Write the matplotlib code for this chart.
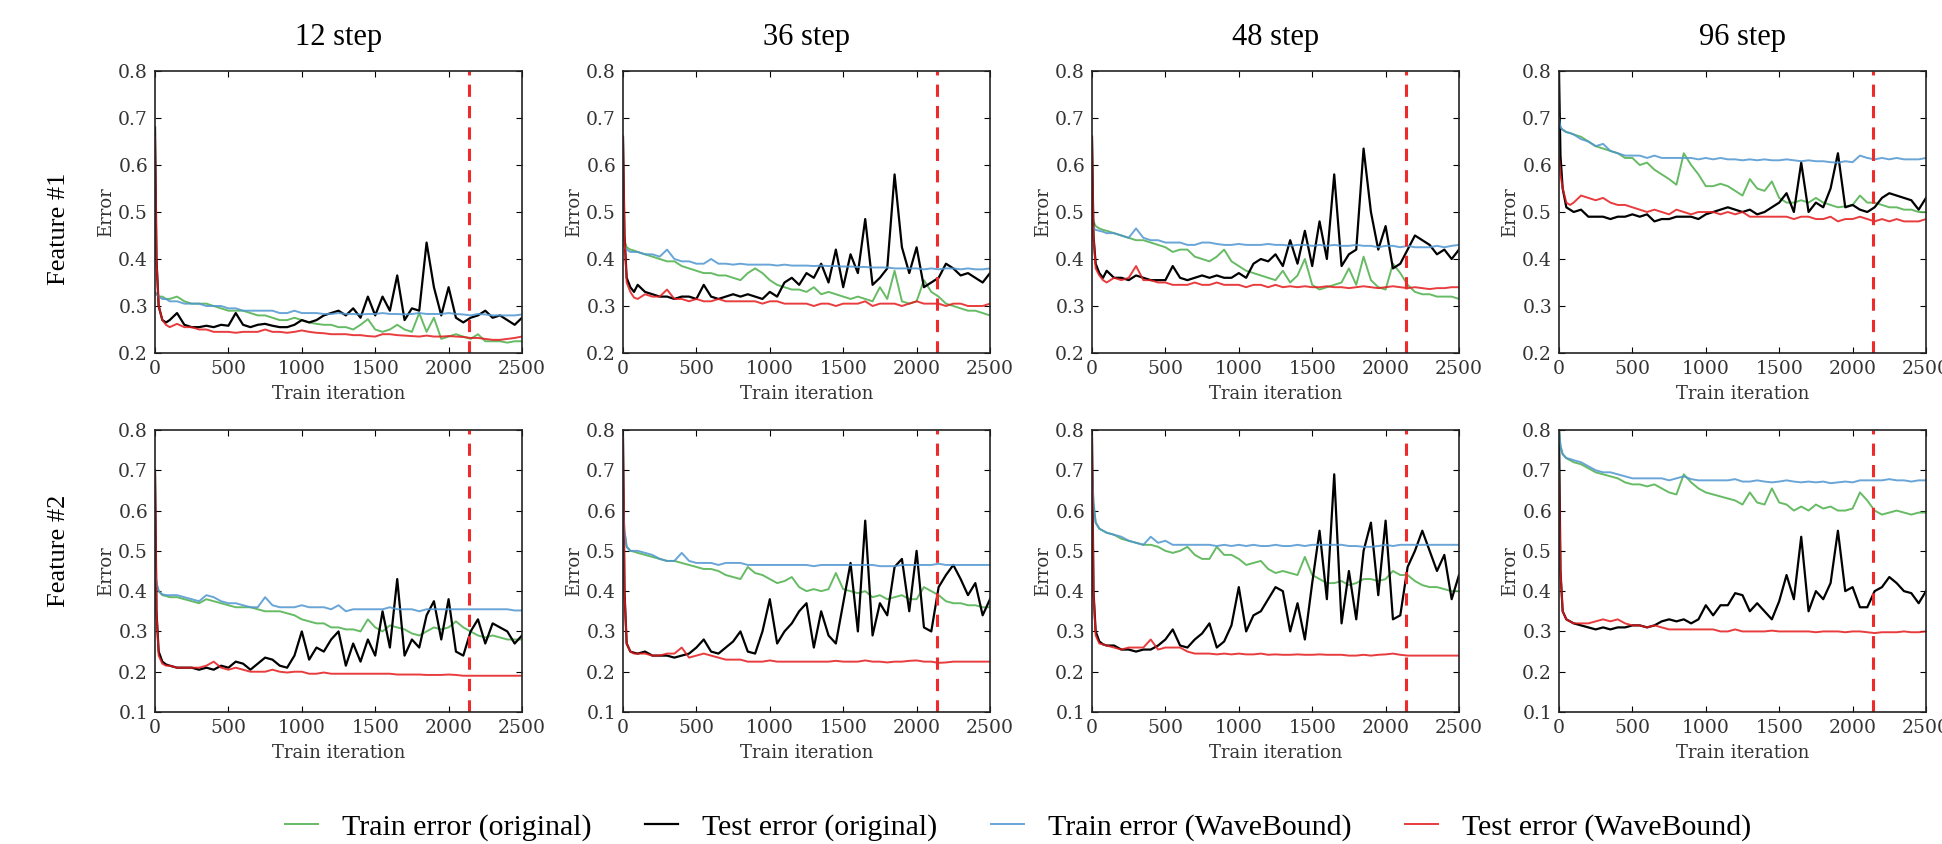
import matplotlib
matplotlib.use("Agg")
import matplotlib.pyplot as plt

# training iterations at which the errors are read (dense at the start)
iters = [0, 10, 25, 50, 75] + list(range(100, 2550, 50))

steps = ["12 step", "36 step", "48 step", "96 step"]
features = ["Feature #1", "Feature #2"]
series_names = ["Train error (original)", "Test error (original)",
                "Train error (WaveBound)", "Test error (WaveBound)"]
early_stop = 2140

# ---------------- Feature #1 ----------------
f1_12_train_orig = [0.33, 0.325, 0.32, 0.32, 0.315,
    0.315, 0.32, 0.31, 0.305, 0.305, 0.305, 0.30, 0.295, 0.29, 0.29,
    0.29, 0.285, 0.28, 0.28, 0.275, 0.27, 0.27, 0.275, 0.27, 0.265,
    0.262, 0.26, 0.26, 0.255, 0.255, 0.25, 0.26, 0.272, 0.25, 0.245,
    0.25, 0.26, 0.25, 0.245, 0.285, 0.245, 0.275, 0.23, 0.235, 0.24,
    0.235, 0.23, 0.24, 0.225, 0.225, 0.225, 0.222, 0.225, 0.225]
f1_12_test_orig = [0.68, 0.4, 0.3, 0.27, 0.265,
    0.27, 0.285, 0.26, 0.255, 0.255, 0.258, 0.255, 0.26, 0.258, 0.285,
    0.26, 0.255, 0.26, 0.262, 0.258, 0.255, 0.255, 0.26, 0.27, 0.265,
    0.27, 0.28, 0.285, 0.29, 0.28, 0.295, 0.275, 0.32, 0.28, 0.32,
    0.29, 0.365, 0.27, 0.295, 0.29, 0.435, 0.34, 0.28, 0.34, 0.275,
    0.265, 0.275, 0.28, 0.29, 0.275, 0.28, 0.27, 0.26, 0.275]
f1_12_train_wb = [0.33, 0.325, 0.32, 0.315, 0.315,
    0.31, 0.31, 0.305, 0.305, 0.305, 0.30, 0.30, 0.30, 0.295, 0.295,
    0.29, 0.29, 0.29, 0.29, 0.29, 0.285, 0.285, 0.29, 0.285, 0.285,
    0.285, 0.283, 0.283, 0.285, 0.283, 0.283, 0.282, 0.283, 0.283, 0.285,
    0.283, 0.283, 0.282, 0.283, 0.285, 0.283, 0.283, 0.283, 0.285, 0.283,
    0.282, 0.28, 0.283, 0.282, 0.28, 0.28, 0.28, 0.28, 0.282]
f1_12_test_wb = [0.66, 0.4, 0.3, 0.27, 0.26,
    0.255, 0.262, 0.255, 0.255, 0.25, 0.25, 0.245, 0.245, 0.245, 0.243,
    0.245, 0.245, 0.245, 0.25, 0.245, 0.245, 0.243, 0.245, 0.248, 0.245,
    0.243, 0.242, 0.24, 0.24, 0.24, 0.238, 0.238, 0.236, 0.235, 0.24,
    0.24, 0.238, 0.237, 0.236, 0.235, 0.237, 0.235, 0.235, 0.236, 0.235,
    0.234, 0.232, 0.232, 0.23, 0.228, 0.228, 0.23, 0.232, 0.235]

f1_36_train_orig = [0.46, 0.44, 0.425, 0.42, 0.418,
    0.415, 0.41, 0.405, 0.40, 0.395, 0.395, 0.385, 0.38, 0.375, 0.37,
    0.37, 0.365, 0.365, 0.36, 0.355, 0.37, 0.38, 0.37, 0.355, 0.345,
    0.34, 0.335, 0.335, 0.33, 0.34, 0.325, 0.33, 0.325, 0.32, 0.315,
    0.32, 0.315, 0.31, 0.34, 0.315, 0.375, 0.31, 0.305, 0.31, 0.355,
    0.33, 0.32, 0.305, 0.30, 0.295, 0.29, 0.29, 0.285, 0.28]
f1_36_test_orig = [0.66, 0.45, 0.36, 0.34, 0.33,
    0.345, 0.33, 0.325, 0.32, 0.32, 0.315, 0.32, 0.32, 0.315, 0.345,
    0.32, 0.315, 0.32, 0.325, 0.32, 0.325, 0.32, 0.315, 0.33, 0.32,
    0.35, 0.36, 0.345, 0.37, 0.36, 0.39, 0.35, 0.42, 0.34, 0.41,
    0.37, 0.485, 0.345, 0.36, 0.38, 0.58, 0.425, 0.37, 0.425, 0.34,
    0.35, 0.36, 0.39, 0.38, 0.365, 0.37, 0.36, 0.35, 0.37]
f1_36_train_wb = [0.43, 0.425, 0.42, 0.415, 0.415,
    0.415, 0.41, 0.41, 0.405, 0.42, 0.40, 0.395, 0.395, 0.39, 0.39,
    0.40, 0.39, 0.39, 0.388, 0.39, 0.388, 0.388, 0.388, 0.388, 0.386,
    0.388, 0.386, 0.386, 0.386, 0.385, 0.386, 0.385, 0.385, 0.384, 0.384,
    0.383, 0.383, 0.382, 0.382, 0.382, 0.38, 0.38, 0.38, 0.38, 0.378,
    0.38, 0.378, 0.38, 0.38, 0.378, 0.38, 0.378, 0.378, 0.38]
f1_36_test_wb = [0.66, 0.45, 0.35, 0.33, 0.318,
    0.315, 0.325, 0.32, 0.32, 0.335, 0.315, 0.315, 0.31, 0.315, 0.31,
    0.31, 0.315, 0.31, 0.31, 0.31, 0.31, 0.31, 0.305, 0.31, 0.31,
    0.305, 0.305, 0.305, 0.305, 0.30, 0.305, 0.305, 0.30, 0.305, 0.305,
    0.305, 0.31, 0.30, 0.305, 0.305, 0.305, 0.30, 0.305, 0.31, 0.305,
    0.305, 0.305, 0.30, 0.305, 0.305, 0.30, 0.30, 0.30, 0.305]

f1_48_train_orig = [0.49, 0.48, 0.47, 0.465, 0.462,
    0.46, 0.455, 0.45, 0.445, 0.44, 0.44, 0.435, 0.43, 0.425, 0.415,
    0.42, 0.42, 0.405, 0.40, 0.395, 0.405, 0.42, 0.395, 0.385, 0.375,
    0.37, 0.365, 0.36, 0.355, 0.375, 0.35, 0.365, 0.40, 0.345, 0.335,
    0.34, 0.345, 0.35, 0.38, 0.345, 0.405, 0.355, 0.34, 0.335, 0.39,
    0.37, 0.345, 0.33, 0.325, 0.325, 0.32, 0.32, 0.32, 0.315]
f1_48_test_orig = [0.66, 0.45, 0.39, 0.37, 0.36,
    0.375, 0.36, 0.36, 0.355, 0.365, 0.36, 0.355, 0.355, 0.355, 0.385,
    0.36, 0.355, 0.36, 0.365, 0.36, 0.365, 0.36, 0.36, 0.37, 0.36,
    0.39, 0.40, 0.395, 0.41, 0.385, 0.44, 0.39, 0.46, 0.385, 0.48,
    0.40, 0.58, 0.385, 0.41, 0.42, 0.635, 0.50, 0.42, 0.47, 0.38,
    0.39, 0.42, 0.45, 0.44, 0.43, 0.41, 0.42, 0.40, 0.42]
f1_48_train_wb = [0.47, 0.465, 0.462, 0.46, 0.458,
    0.455, 0.455, 0.45, 0.445, 0.465, 0.445, 0.44, 0.44, 0.435, 0.435,
    0.435, 0.43, 0.43, 0.435, 0.435, 0.432, 0.43, 0.43, 0.432, 0.43,
    0.43, 0.43, 0.432, 0.43, 0.43, 0.428, 0.43, 0.43, 0.428, 0.43,
    0.428, 0.43, 0.428, 0.428, 0.43, 0.428, 0.428, 0.425, 0.428, 0.428,
    0.425, 0.428, 0.425, 0.425, 0.425, 0.428, 0.425, 0.428, 0.43]
f1_48_test_wb = [0.66, 0.45, 0.38, 0.365, 0.355,
    0.35, 0.36, 0.355, 0.36, 0.385, 0.355, 0.355, 0.35, 0.35, 0.345,
    0.345, 0.345, 0.35, 0.345, 0.345, 0.35, 0.345, 0.345, 0.345, 0.34,
    0.345, 0.345, 0.34, 0.345, 0.34, 0.342, 0.34, 0.342, 0.34, 0.34,
    0.342, 0.34, 0.34, 0.338, 0.34, 0.342, 0.34, 0.338, 0.34, 0.342,
    0.34, 0.338, 0.34, 0.338, 0.336, 0.338, 0.338, 0.34, 0.34]

f1_96_train_orig = [0.69, 0.68, 0.675, 0.67, 0.668,
    0.665, 0.66, 0.65, 0.64, 0.635, 0.63, 0.625, 0.615, 0.615, 0.60,
    0.605, 0.59, 0.58, 0.57, 0.558, 0.625, 0.60, 0.58, 0.555, 0.555,
    0.56, 0.555, 0.545, 0.535, 0.57, 0.55, 0.545, 0.565, 0.53, 0.52,
    0.52, 0.525, 0.52, 0.53, 0.52, 0.515, 0.51, 0.512, 0.515, 0.535,
    0.52, 0.52, 0.515, 0.51, 0.51, 0.505, 0.505, 0.50, 0.50]
f1_96_test_orig = [0.8, 0.62, 0.55, 0.51, 0.505,
    0.50, 0.505, 0.49, 0.49, 0.49, 0.485, 0.49, 0.49, 0.495, 0.49,
    0.495, 0.48, 0.485, 0.485, 0.49, 0.49, 0.49, 0.485, 0.495, 0.50,
    0.505, 0.51, 0.505, 0.50, 0.505, 0.495, 0.50, 0.51, 0.52, 0.54,
    0.50, 0.605, 0.50, 0.52, 0.51, 0.55, 0.625, 0.51, 0.515, 0.505,
    0.50, 0.51, 0.53, 0.54, 0.535, 0.53, 0.525, 0.505, 0.53]
f1_96_train_wb = [0.70, 0.68, 0.675, 0.67, 0.668,
    0.665, 0.655, 0.65, 0.64, 0.645, 0.63, 0.625, 0.62, 0.62, 0.62,
    0.615, 0.62, 0.615, 0.615, 0.615, 0.615, 0.615, 0.612, 0.615, 0.612,
    0.615, 0.612, 0.612, 0.61, 0.612, 0.61, 0.612, 0.61, 0.61, 0.612,
    0.61, 0.608, 0.61, 0.608, 0.608, 0.606, 0.605, 0.608, 0.606, 0.62,
    0.615, 0.612, 0.615, 0.612, 0.615, 0.612, 0.612, 0.612, 0.615]
f1_96_test_wb = [0.62, 0.58, 0.55, 0.52, 0.515,
    0.52, 0.535, 0.53, 0.525, 0.53, 0.52, 0.515, 0.515, 0.51, 0.505,
    0.50, 0.505, 0.50, 0.495, 0.505, 0.50, 0.495, 0.50, 0.50, 0.50,
    0.495, 0.50, 0.495, 0.50, 0.49, 0.49, 0.49, 0.49, 0.49, 0.49,
    0.485, 0.49, 0.49, 0.485, 0.485, 0.49, 0.48, 0.485, 0.485, 0.49,
    0.485, 0.48, 0.485, 0.48, 0.485, 0.48, 0.48, 0.48, 0.485]

# ---------------- Feature #2 ----------------
f2_12_train_orig = [0.45, 0.42, 0.40, 0.39, 0.388,
    0.385, 0.385, 0.38, 0.375, 0.37, 0.38, 0.375, 0.37, 0.365, 0.36,
    0.36, 0.36, 0.355, 0.35, 0.35, 0.35, 0.345, 0.34, 0.33, 0.325,
    0.32, 0.32, 0.31, 0.31, 0.305, 0.305, 0.30, 0.33, 0.31, 0.30,
    0.315, 0.31, 0.305, 0.295, 0.29, 0.30, 0.31, 0.305, 0.31, 0.325,
    0.31, 0.30, 0.29, 0.285, 0.29, 0.285, 0.28, 0.28, 0.28]
f2_12_test_orig = [0.7, 0.35, 0.25, 0.225, 0.218,
    0.215, 0.21, 0.21, 0.21, 0.205, 0.21, 0.205, 0.215, 0.21, 0.225,
    0.22, 0.205, 0.22, 0.235, 0.23, 0.215, 0.21, 0.24, 0.30, 0.23,
    0.26, 0.25, 0.28, 0.30, 0.215, 0.27, 0.225, 0.28, 0.24, 0.35,
    0.26, 0.43, 0.24, 0.28, 0.26, 0.34, 0.375, 0.28, 0.38, 0.25,
    0.24, 0.30, 0.33, 0.27, 0.32, 0.31, 0.30, 0.27, 0.29]
f2_12_train_wb = [0.45, 0.42, 0.40, 0.392, 0.39,
    0.39, 0.39, 0.385, 0.38, 0.375, 0.39, 0.385, 0.375, 0.37, 0.37,
    0.365, 0.36, 0.36, 0.385, 0.365, 0.36, 0.36, 0.36, 0.365, 0.36,
    0.36, 0.36, 0.355, 0.365, 0.35, 0.355, 0.355, 0.355, 0.355, 0.355,
    0.36, 0.355, 0.355, 0.355, 0.35, 0.355, 0.355, 0.355, 0.355, 0.355,
    0.355, 0.355, 0.355, 0.355, 0.355, 0.355, 0.355, 0.352, 0.352]
f2_12_test_wb = [0.7, 0.35, 0.24, 0.22, 0.215,
    0.215, 0.21, 0.21, 0.21, 0.21, 0.215, 0.225, 0.21, 0.205, 0.21,
    0.205, 0.20, 0.20, 0.20, 0.205, 0.20, 0.198, 0.20, 0.20, 0.195,
    0.195, 0.198, 0.195, 0.195, 0.195, 0.195, 0.195, 0.195, 0.195, 0.195,
    0.195, 0.193, 0.193, 0.193, 0.193, 0.192, 0.192, 0.192, 0.193, 0.192,
    0.19, 0.19, 0.19, 0.19, 0.19, 0.19, 0.19, 0.19, 0.19]

f2_36_train_orig = [0.62, 0.55, 0.51, 0.50, 0.498,
    0.495, 0.49, 0.485, 0.48, 0.475, 0.475, 0.47, 0.465, 0.46, 0.455,
    0.455, 0.45, 0.44, 0.435, 0.43, 0.46, 0.445, 0.44, 0.43, 0.42,
    0.425, 0.435, 0.41, 0.40, 0.405, 0.40, 0.405, 0.445, 0.405, 0.40,
    0.395, 0.40, 0.385, 0.39, 0.38, 0.385, 0.39, 0.38, 0.38, 0.41,
    0.40, 0.39, 0.375, 0.37, 0.37, 0.365, 0.365, 0.36, 0.36]
f2_36_test_orig = [0.78, 0.4, 0.27, 0.25, 0.247,
    0.245, 0.25, 0.24, 0.24, 0.24, 0.235, 0.24, 0.245, 0.26, 0.28,
    0.25, 0.245, 0.26, 0.275, 0.30, 0.25, 0.245, 0.30, 0.38, 0.27,
    0.30, 0.32, 0.35, 0.37, 0.26, 0.35, 0.29, 0.27, 0.37, 0.47,
    0.30, 0.575, 0.29, 0.37, 0.34, 0.46, 0.48, 0.35, 0.50, 0.31,
    0.30, 0.41, 0.44, 0.465, 0.43, 0.39, 0.42, 0.34, 0.38]
f2_36_train_wb = [0.62, 0.55, 0.51, 0.50, 0.50,
    0.50, 0.495, 0.49, 0.48, 0.475, 0.475, 0.495, 0.475, 0.47, 0.47,
    0.47, 0.465, 0.47, 0.47, 0.47, 0.465, 0.465, 0.465, 0.465, 0.465,
    0.465, 0.465, 0.465, 0.465, 0.462, 0.465, 0.465, 0.465, 0.465, 0.465,
    0.465, 0.465, 0.465, 0.462, 0.462, 0.462, 0.465, 0.465, 0.465, 0.465,
    0.465, 0.468, 0.465, 0.465, 0.465, 0.465, 0.465, 0.465, 0.465]
f2_36_test_wb = [0.78, 0.4, 0.27, 0.25, 0.245,
    0.245, 0.245, 0.24, 0.24, 0.245, 0.245, 0.26, 0.235, 0.24, 0.245,
    0.24, 0.235, 0.23, 0.23, 0.23, 0.225, 0.225, 0.225, 0.228, 0.225,
    0.225, 0.225, 0.225, 0.225, 0.225, 0.225, 0.225, 0.227, 0.225, 0.225,
    0.225, 0.228, 0.225, 0.225, 0.223, 0.225, 0.225, 0.227, 0.228, 0.225,
    0.225, 0.222, 0.223, 0.225, 0.225, 0.225, 0.225, 0.225, 0.225]

f2_48_train_orig = [0.70, 0.62, 0.57, 0.555, 0.55,
    0.545, 0.54, 0.53, 0.525, 0.52, 0.515, 0.515, 0.51, 0.50, 0.495,
    0.50, 0.51, 0.49, 0.48, 0.48, 0.51, 0.49, 0.49, 0.48, 0.465,
    0.47, 0.475, 0.455, 0.445, 0.45, 0.445, 0.44, 0.485, 0.44, 0.43,
    0.42, 0.42, 0.425, 0.415, 0.42, 0.43, 0.43, 0.425, 0.43, 0.45,
    0.44, 0.44, 0.425, 0.415, 0.41, 0.41, 0.405, 0.40, 0.40]
f2_48_test_orig = [0.78, 0.4, 0.30, 0.275, 0.268,
    0.265, 0.265, 0.255, 0.255, 0.25, 0.255, 0.255, 0.265, 0.28, 0.305,
    0.265, 0.26, 0.28, 0.295, 0.32, 0.26, 0.275, 0.315, 0.41, 0.30,
    0.34, 0.35, 0.38, 0.41, 0.40, 0.30, 0.37, 0.28, 0.42, 0.55,
    0.38, 0.69, 0.32, 0.45, 0.33, 0.50, 0.57, 0.39, 0.575, 0.33,
    0.34, 0.46, 0.50, 0.55, 0.50, 0.45, 0.49, 0.38, 0.44]
f2_48_train_wb = [0.70, 0.62, 0.57, 0.555, 0.55,
    0.545, 0.54, 0.535, 0.525, 0.52, 0.515, 0.535, 0.52, 0.525, 0.515,
    0.515, 0.515, 0.515, 0.515, 0.515, 0.512, 0.515, 0.512, 0.515, 0.512,
    0.515, 0.512, 0.512, 0.515, 0.512, 0.512, 0.515, 0.512, 0.515, 0.515,
    0.515, 0.515, 0.515, 0.512, 0.512, 0.51, 0.51, 0.512, 0.515, 0.512,
    0.515, 0.515, 0.515, 0.515, 0.515, 0.515, 0.515, 0.515, 0.515]
f2_48_test_wb = [0.78, 0.4, 0.29, 0.27, 0.268,
    0.265, 0.26, 0.255, 0.26, 0.26, 0.26, 0.28, 0.255, 0.26, 0.26,
    0.26, 0.25, 0.245, 0.245, 0.245, 0.243, 0.245, 0.243, 0.245, 0.243,
    0.243, 0.245, 0.242, 0.243, 0.242, 0.242, 0.243, 0.242, 0.242, 0.243,
    0.242, 0.242, 0.242, 0.24, 0.24, 0.242, 0.24, 0.242, 0.243, 0.245,
    0.242, 0.24, 0.24, 0.24, 0.24, 0.24, 0.24, 0.24, 0.24]

f2_96_train_orig = [0.80, 0.76, 0.74, 0.73, 0.725,
    0.72, 0.715, 0.705, 0.695, 0.69, 0.685, 0.68, 0.67, 0.665, 0.665,
    0.66, 0.665, 0.655, 0.645, 0.64, 0.69, 0.67, 0.655, 0.645, 0.64,
    0.635, 0.63, 0.625, 0.615, 0.645, 0.62, 0.615, 0.655, 0.62, 0.615,
    0.60, 0.61, 0.60, 0.615, 0.605, 0.61, 0.60, 0.60, 0.605, 0.645,
    0.625, 0.60, 0.59, 0.595, 0.60, 0.595, 0.59, 0.595, 0.595]
f2_96_test_orig = [0.80, 0.45, 0.35, 0.33, 0.325,
    0.32, 0.315, 0.31, 0.305, 0.31, 0.305, 0.31, 0.31, 0.315, 0.315,
    0.31, 0.315, 0.325, 0.33, 0.325, 0.33, 0.32, 0.33, 0.365, 0.34,
    0.365, 0.365, 0.395, 0.39, 0.35, 0.37, 0.35, 0.33, 0.375, 0.44,
    0.38, 0.535, 0.35, 0.40, 0.38, 0.42, 0.55, 0.40, 0.41, 0.36,
    0.36, 0.40, 0.41, 0.435, 0.42, 0.40, 0.395, 0.37, 0.40]
f2_96_train_wb = [0.80, 0.76, 0.74, 0.73, 0.728,
    0.725, 0.72, 0.71, 0.70, 0.695, 0.695, 0.69, 0.685, 0.68, 0.68,
    0.68, 0.68, 0.68, 0.675, 0.68, 0.685, 0.678, 0.675, 0.675, 0.675,
    0.675, 0.675, 0.678, 0.672, 0.672, 0.675, 0.672, 0.67, 0.672, 0.675,
    0.672, 0.67, 0.672, 0.67, 0.672, 0.668, 0.67, 0.672, 0.67, 0.675,
    0.675, 0.675, 0.675, 0.678, 0.675, 0.675, 0.672, 0.675, 0.675]
f2_96_test_wb = [0.70, 0.45, 0.35, 0.33, 0.325,
    0.32, 0.32, 0.32, 0.325, 0.33, 0.325, 0.33, 0.32, 0.315, 0.315,
    0.31, 0.315, 0.31, 0.305, 0.305, 0.305, 0.305, 0.305, 0.305, 0.305,
    0.30, 0.30, 0.305, 0.30, 0.30, 0.30, 0.30, 0.302, 0.30, 0.30,
    0.30, 0.30, 0.30, 0.298, 0.30, 0.30, 0.30, 0.298, 0.30, 0.30,
    0.298, 0.296, 0.298, 0.298, 0.298, 0.30, 0.298, 0.298, 0.30]

panels = [
    [(f1_12_train_orig, f1_12_test_orig, f1_12_train_wb, f1_12_test_wb),
     (f1_36_train_orig, f1_36_test_orig, f1_36_train_wb, f1_36_test_wb),
     (f1_48_train_orig, f1_48_test_orig, f1_48_train_wb, f1_48_test_wb),
     (f1_96_train_orig, f1_96_test_orig, f1_96_train_wb, f1_96_test_wb)],
    [(f2_12_train_orig, f2_12_test_orig, f2_12_train_wb, f2_12_test_wb),
     (f2_36_train_orig, f2_36_test_orig, f2_36_train_wb, f2_36_test_wb),
     (f2_48_train_orig, f2_48_test_orig, f2_48_train_wb, f2_48_test_wb),
     (f2_96_train_orig, f2_96_test_orig, f2_96_train_wb, f2_96_test_wb)],
]
row_ylim = [(0.2, 0.8), (0.1, 0.8)]

colors = ["#4daf4a", "black", "#4f96d0", "#e41a1c"]
alphas = [0.85, 1.0, 0.85, 0.85]
widths = [1.4, 1.6, 1.4, 1.4]

W, H = 1942, 844
fig = plt.figure(figsize=(W / 100, H / 100), dpi=100)

col_left = [155, 623, 1092, 1559]
ax_w = 367
row_top = [71, 430]
ax_h = 282
tick_col = "#333333"
serif_small = "DejaVu Serif"
serif_big = "Liberation Serif"

handles = []
for r in range(2):
    for c in range(4):
        x0 = col_left[c] / W
        y0 = 1 - (row_top[r] + ax_h) / H
        ax = fig.add_axes([x0, y0, ax_w / W, ax_h / H])
        for k, ys in enumerate(panels[r][c]):
            ln, = ax.plot(iters, ys, color=colors[k], alpha=alphas[k],
                          lw=widths[k], label=series_names[k])
            if r == 0 and c == 0:
                handles.append(ln)
        ax.axvline(early_stop, color="#ee2a2a", ls="--", lw=2.2, dashes=(4, 3))
        ax.set_xlim(0, 2500)
        ax.set_ylim(*row_ylim[r])
        ax.set_xticks(range(0, 2501, 500))
        lo, hi = row_ylim[r]
        ax.set_yticks([round(lo + 0.1 * i, 1) for i in range(int(round((hi - lo) / 0.1)) + 1)])
        ax.tick_params(direction="in", top=True, right=True, length=4.5,
                       width=0.8, pad=5, labelsize=13.5, labelcolor=tick_col)
        for lab in ax.get_xticklabels() + ax.get_yticklabels():
            lab.set_family(serif_small)
        for sp in ax.spines.values():
            sp.set_linewidth(1.2)
            sp.set_color("#222222")
        ax.set_xlabel("Train iteration", fontsize=13, family=serif_small,
                      color=tick_col, labelpad=5)
        ax.set_ylabel("Error", fontsize=13, family=serif_small,
                      color=tick_col, labelpad=2)

# column titles
for c in range(4):
    cx = (col_left[c] + ax_w / 2) / W
    fig.text(cx, 1 - 37 / H, steps[c], ha="center", va="center",
             fontsize=22, family=serif_big)

# row labels
for r, yc in enumerate([229, 551]):
    fig.text(59 / W, 1 - yc / H, features[r], ha="center", va="center",
             rotation=90, fontsize=19, family=serif_big)

fig.legend(handles=handles, labels=series_names, loc="center",
           bbox_to_anchor=(1018 / W, 1 - 827 / H), ncol=4, frameon=False,
           prop={"family": serif_big, "size": 21.5}, handlelength=1.1,
           handletextpad=0.8, columnspacing=1.8)

fig.savefig("out.png", dpi=100)
